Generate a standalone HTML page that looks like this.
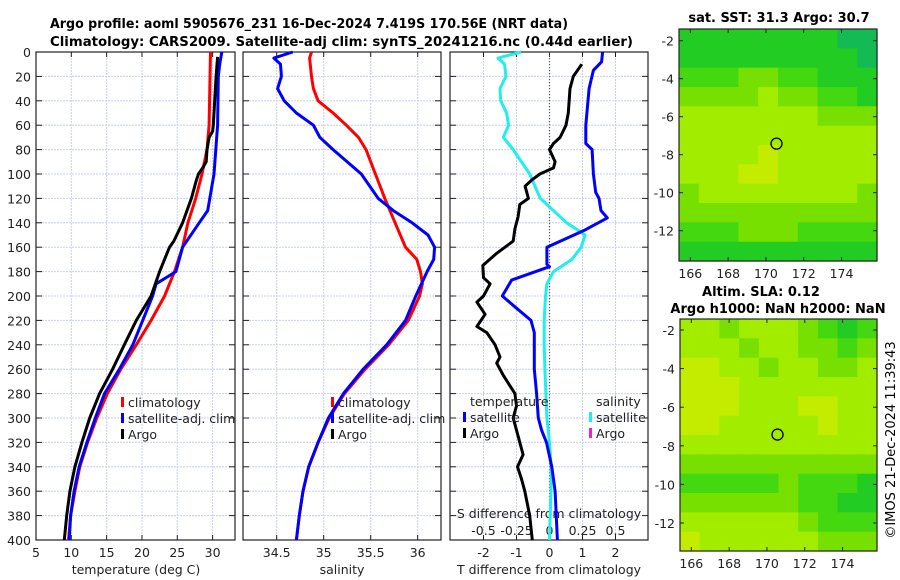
<!DOCTYPE html>
<html><head><meta charset="utf-8"><style>
html,body{margin:0;padding:0;background:#fff;}
svg{display:block;font-family:"DejaVu Sans","Liberation Sans",sans-serif;}
</style></head><body>
<svg id="fig" width="900" height="580" viewBox="0 0 900 580" xmlns="http://www.w3.org/2000/svg">
<text x="50" y="28" font-size="13" font-weight="bold" textLength="518" lengthAdjust="spacingAndGlyphs">Argo profile: aoml 5905676_231 16-Dec-2024 7.419S 170.56E (NRT data)</text>
<text x="50" y="46" font-size="13" font-weight="bold" textLength="583" lengthAdjust="spacingAndGlyphs">Climatology: CARS2009. Satellite-adj clim: synTS_20241216.nc (0.44d earlier)</text>
<text x="779" y="22" font-size="13" font-weight="bold" text-anchor="middle">sat. SST: 31.3 Argo: 30.7</text>
<text x="761" y="296" font-size="13" font-weight="bold" text-anchor="middle">Altim. SLA: 0.12</text>
<text x="778" y="313" font-size="13" font-weight="bold" text-anchor="middle">Argo h1000: NaN h2000: NaN</text>
<text x="0" y="0" font-size="13" text-anchor="middle" transform="translate(895,440) rotate(-90)">©IMOS 21-Dec-2024 11:39:43</text>
</svg>
<script>
// ---- profile data ----
const tDepth = [0,60,80,100,120,140,160,180,200,220,240,260,280,300,320,340,360,380,400];
const tClim  = [29.7,29.5,29.2,28.5,27.6,26.5,25.75,24.6,23.2,21.3,19.2,17.0,15.1,13.6,12.3,11.2,10.5,9.9,9.6];
const tSatDepth = [0,10,20,60,100,120,130,140,160,180,190,200,220,240,260,280,300,320,340,360,380,400];
const tSat   = [31.3,31.0,30.8,30.7,30.2,29.6,29.3,28.1,25.75,24.8,22.0,21.5,20.1,18.7,16.8,14.7,13.4,12.2,11.1,10.4,9.9,9.7];
const tArgoDepth = [4,20,40,60,65,70,80,90,95,100,105,120,140,155,160,180,200,220,240,260,280,300,320,340,360,380,400];
const tArgo  = [30.7,30.5,30.3,30.1,30.0,29.5,29.2,29.1,28.6,28.0,27.7,27.0,25.75,24.5,23.9,22.5,21.3,19.2,17.5,15.85,14.0,12.6,11.5,10.5,9.8,9.35,9.0];

const sClimDepth = [0,5,20,30,40,50,60,70,80,100,120,140,160,170,180,190,200,220,240,260,280,300,320,340,360,380,400];
const sClim = [34.87,34.85,34.87,34.89,34.94,35.1,35.24,35.37,35.45,35.55,35.65,35.76,35.87,35.99,36.03,36.05,36.02,35.9,35.69,35.44,35.22,35.06,34.94,34.84,34.78,34.74,34.71];
const sSatDepth = [0,5,10,20,30,40,50,60,70,80,100,120,130,140,150,160,170,180,200,220,240,260,280,300,320,340,360,380,400];
const sSat = [34.67,34.47,34.54,34.55,34.51,34.58,34.71,34.89,34.96,35.1,35.4,35.58,35.74,35.94,36.11,36.18,36.17,36.1,35.98,35.87,35.67,35.42,35.21,35.05,34.94,34.84,34.78,34.74,34.71];

const dTSatDepth = [0,8,15,30,60,75,80,100,115,120,130,136,146,160,174,176,187,200,210,220,230,260,280,300,310,320,340,360,400];
const dTSat = [1.61,1.58,1.33,1.2,1.1,1.1,1.29,1.33,1.4,1.5,1.56,1.75,1.07,-0.08,-0.08,0.0,-1.15,-1.43,-1.0,-0.56,-0.46,-0.46,-0.39,-0.34,-0.24,-0.09,0.07,0.17,0.24];
const dTArgoDepth = [10,20,30,50,60,70,75,80,90,95,100,105,110,120,125,135,145,155,165,175,185,190,200,205,215,225,230,240,250,255,265,280,290,300,310,320,330,340,350,360,380,400];
const dTArgo = [0.98,0.72,0.62,0.57,0.5,0.32,0.12,0.0,0.17,0.12,-0.29,-0.54,-0.74,-0.64,-0.9,-0.95,-1.05,-1.1,-1.6,-2.02,-2.0,-1.8,-2.0,-2.2,-1.95,-2.2,-1.9,-1.65,-1.5,-1.6,-1.4,-1.05,-1.0,-1.1,-1.0,-0.9,-0.8,-0.97,-0.85,-0.75,-0.6,-0.52];
const dSSatDepth = [0,5,10,20,30,40,50,60,70,80,100,120,130,140,150,160,170,180,190,200,220,240,260,280,300,320,340,360,380,400];
const dSSat = [-0.215,-0.39,-0.34,-0.33,-0.375,-0.37,-0.325,-0.31,-0.35,-0.275,-0.15,-0.07,0.03,0.13,0.27,0.24,0.17,0.03,-0.02,-0.03,-0.04,-0.04,-0.035,-0.027,-0.02,0.0,0.011,0.011,0.005,0.0];

const depthTicks = [0,20,40,60,80,100,120,140,160,180,200,220,240,260,280,300,320,340,360,380,400];
const tTicks = [5,10,15,20,25,30];
const sTicks = [34.5,35,35.5,36];
const dTTicks = [-2,-1,0,1,2];
const dSTicks = [-0.5,-0.25,0,0.25,0.5];
const dSTickLabels = ['-0.5','-0.25','0','0.25','0.5'];

// ---- map data (colour level per ~1deg cell, rows top->bottom) ----
const mapLons = [166,168,170,172,174];
const mapLats = [-2,-4,-6,-8,-10,-12];
const sstGrid = [
 [1,1,1,1,1,1,1,1,0,0],[1,1,1,1,1,1,1,1,1,0],[2,2,2,3,3,2,2,1,1,1],[3,3,3,3,4,3,3,2,2,1],
 [4,4,4,4,4,4,4,3,3,3],[4,4,4,4,4,4,4,4,4,4],[4,4,4,4,5,4,4,4,4,4],[4,4,4,5,5,4,4,4,4,4],
 [3,4,4,4,4,4,4,4,4,3],[3,3,3,3,3,3,3,3,3,3],[2,2,2,3,3,3,2,2,2,2],[1,1,1,1,1,1,1,1,1,1]];
const slaGrid = [
 [4,4,3,4,4,4,3,2,1,2],[4,4,4,3,4,4,3,3,2,3],[5,5,4,4,3,4,4,3,3,4],[5,5,5,4,4,4,4,4,4,4],
 [5,5,5,4,4,4,5,5,4,4],[5,5,4,4,4,4,4,5,4,4],[4,4,4,4,4,4,4,4,4,4],[3,3,3,3,3,3,3,3,3,3],
 [2,2,2,2,2,3,2,2,2,1],[3,3,3,3,3,3,2,2,1,1],[4,4,4,4,4,4,3,2,2,2],[5,4,4,4,4,4,4,3,3,3]];
const palette = ['#14bb55','#22cc22','#44d811','#77e000','#a2ec00','#c4ec00','#e0e000'];
const argoLon = 170.56, argoLat = -7.419;

const NS='http://www.w3.org/2000/svg';
const svg=document.getElementById('fig');
function mk(tag,attrs,parent){const e=document.createElementNS(NS,tag);for(const k in attrs)e.setAttribute(k,attrs[k]);(parent||svg).appendChild(e);return e;}

const Y0=52, Y1=540;
const yD = d => Y0 + (d/400)*(Y1-Y0);
const panels = [
 {name:'temperature-panel', x0:36, x1:235, v0:5, v1:33.17},
 {name:'salinity-panel', x0:243, x1:441, v0:34.5-(276.7-243)/94, v1:34.5+(441-276.7)/94},
 {name:'difference-panel', x0:450, x1:648, v0:-(549.5-450)/33, v1:(648-549.5)/33}
];
const ax = (p,v) => p.x0 + (v-p.v0)/(p.v1-p.v0)*(p.x1-p.x0);
const dS2T = v => v*4;

function gridAndFrame(p, xt){
  const g=mk('g',{});
  
  
  depthTicks.forEach(d=>{
    if(d>0&&d<400){const l=mk('line',{x1:p.x0,x2:p.x1,y1:yD(d),y2:yD(d),stroke:'#c8d0ec','stroke-width':1,'stroke-dasharray':'2,1'},g);
    
    }
    mk('line',{x1:p.x0,x2:p.x0+6,y1:yD(d),y2:yD(d),stroke:'#222'},g);
    mk('line',{x1:p.x1-6,x2:p.x1,y1:yD(d),y2:yD(d),stroke:'#222'},g);
  });
  xt.forEach(v=>{const x=ax(p,v);
    const l=mk('line',{x1:x,x2:x,y1:Y0,y2:Y1,stroke:'#c8d0ec','stroke-width':1,'stroke-dasharray':'2,1'},g);
    
    
    mk('line',{x1:x,x2:x,y1:Y1-5,y2:Y1,stroke:'#222'},g);
    mk('line',{x1:x,x2:x,y1:Y0,y2:Y0+5,stroke:'#222'},g);});
  const r=mk('rect',{x:p.x0,y:Y0,width:p.x1-p.x0,height:Y1-Y0,fill:'none',stroke:'#222','stroke-width':1.2},g);
  
  
  return g;
}
function series(p, depths, vals, color, name, conv){
  const pts=depths.map((d,i)=>ax(p,conv?conv(vals[i]):vals[i]).toFixed(1)+','+yD(d).toFixed(1)).join(' ');
  const pl=mk('polyline',{points:pts,fill:'none',stroke:color,'stroke-width':3,'stroke-linejoin':'round'});
  
  
}
function txt(s,x,y,opts,name){const t=mk('text',Object.assign({x:x,y:y,'font-size':12.5,fill:'#222'},opts||{}));t.textContent=s;
  
  
  return t;}

gridAndFrame(panels[0], tTicks);
gridAndFrame(panels[1], sTicks);
gridAndFrame(panels[2], dTTicks);
mk('line',{x1:ax(panels[2],0),x2:ax(panels[2],0),y1:Y0,y2:Y1,stroke:'#555','stroke-width':1.2,'stroke-dasharray':'1,2'});

depthTicks.forEach(d=>txt(String(d),31,yD(d)+5,{'text-anchor':'end'},'depth-tick-label'));
tTicks.forEach(v=>txt(String(v),ax(panels[0],v),557,{'text-anchor':'middle'},'temperature-tick-label'));
sTicks.forEach(v=>txt(String(v),ax(panels[1],v),557,{'text-anchor':'middle'},'salinity-tick-label'));
dTTicks.forEach(v=>txt(String(v),ax(panels[2],v),557,{'text-anchor':'middle'},'t-diff-tick-label'));
dSTicks.forEach((v,i)=>txt(dSTickLabels[i],ax(panels[2],dS2T(v)),535,{'text-anchor':'middle'},'s-diff-tick-label'));
txt('temperature (deg C)',136,574,{'text-anchor':'middle'},'temperature-axis-title');
txt('salinity',342,574,{'text-anchor':'middle'},'salinity-axis-title');
txt('T difference from climatology',549,574,{'text-anchor':'middle'},'t-diff-axis-title');
txt('S difference from climatology',549,518,{'text-anchor':'middle'},'s-diff-axis-title');

const P=panels;
series(P[0],tDepth,tClim,'#ff0000','temperature-climatology-line');
series(P[0],tSatDepth,tSat,'#0000ff','temperature-satellite-line');
series(P[0],tArgoDepth,tArgo,'#000000','temperature-argo-line');
series(P[1],sClimDepth,sClim,'#ff0000','salinity-climatology-line');
series(P[1],sSatDepth,sSat,'#0000ff','salinity-satellite-line');
series(P[2],dSSatDepth,dSSat,'#22eeee','salinity-diff-satellite-line',dS2T);
series(P[2],dTSatDepth,dTSat,'#0000ff','temperature-diff-satellite-line');
series(P[2],dTArgoDepth,dTArgo,'#000000','temperature-diff-argo-line');

function legEntry(x,y,color,label,name){
  const r=mk('rect',{x:x,y:y-9,width:3,height:10,fill:color});
  
  
  txt(label,x+7,y+1,{},name);
}
legEntry(121,406,'#ff0000','climatology','legend-climatology');
legEntry(121,422,'#0000ff','satellite-adj. clim','legend-satellite');
legEntry(121,438,'#000000','Argo','legend-argo');
legEntry(331,406,'#ff0000','climatology','legend-climatology-sal');
legEntry(331,422,'#0000ff','satellite-adj. clim','legend-satellite-sal');
legEntry(331,438,'#000000','Argo','legend-argo-sal');
txt('temperature',470,406,{},'legend-temperature-header');
legEntry(463,421,'#0000ff','satellite','legend-t-satellite');
legEntry(463,437,'#000000','Argo','legend-t-argo');
txt('salinity',596,406,{},'legend-salinity-header');
legEntry(589,421,'#22eeee','satellite','legend-s-satellite');
legEntry(589,437,'#ee22cc','Argo','legend-s-argo');

function drawMap(m, grid, name){
  const g=mk('g',{});
  
  
  const lonX=lon=>m.x0+(lon-m.lon0)*m.px;
  const latY=lat=>m.yRef+(m.latRef-lat)*m.py;
  const rows=grid.length, cols=grid[0].length;
  const cw=(m.x1-m.x0)/cols, ch=(m.y1-m.y0)/rows;
  grid.forEach((row,ri)=>row.forEach((v,ci)=>{
    const c=mk('rect',{x:(m.x0+ci*cw).toFixed(1),y:(m.y0+ri*ch).toFixed(1),width:(cw+0.6).toFixed(1),height:(ch+0.6).toFixed(1),fill:palette[v]},g);
    
    
  }));
  mk('rect',{x:m.x0,y:m.y0,width:m.x1-m.x0,height:m.y1-m.y0,fill:'none',stroke:'#222','stroke-width':1.2},g);
  mapLons.forEach(lon=>{const x=lonX(lon);
    mk('line',{x1:x,x2:x,y1:m.y1-4,y2:m.y1,stroke:'#222'},g);
    mk('line',{x1:x,x2:x,y1:m.y0,y2:m.y0+4,stroke:'#222'},g);
    txt(String(lon),x,m.y1+17,{'text-anchor':'middle'},'map-lon-label');});
  mapLats.forEach(lat=>{const y=latY(lat);
    mk('line',{x1:m.x0,x2:m.x0+4,y1:y,y2:y,stroke:'#222'},g);
    mk('line',{x1:m.x1-4,x2:m.x1,y1:y,y2:y,stroke:'#222'},g);
    txt(String(lat),m.x0-5,y+5,{'text-anchor':'end'},'map-lat-label');});
  const c=mk('circle',{cx:lonX(argoLon),cy:latY(argoLat),r:5.5,fill:'none',stroke:'#000','stroke-width':1.3},g);
  
  
}
drawMap({x0:679,x1:877,y0:29,y1:261,lon0:165.4,px:18.9,yRef:40.7,latRef:-2,py:19},sstGrid,'sst-map');
drawMap({x0:680,x1:877,y0:319,y1:551,lon0:165.4,px:18.9,yRef:330,latRef:-2,py:19.3},slaGrid,'sla-map');
</script>
</body></html>
